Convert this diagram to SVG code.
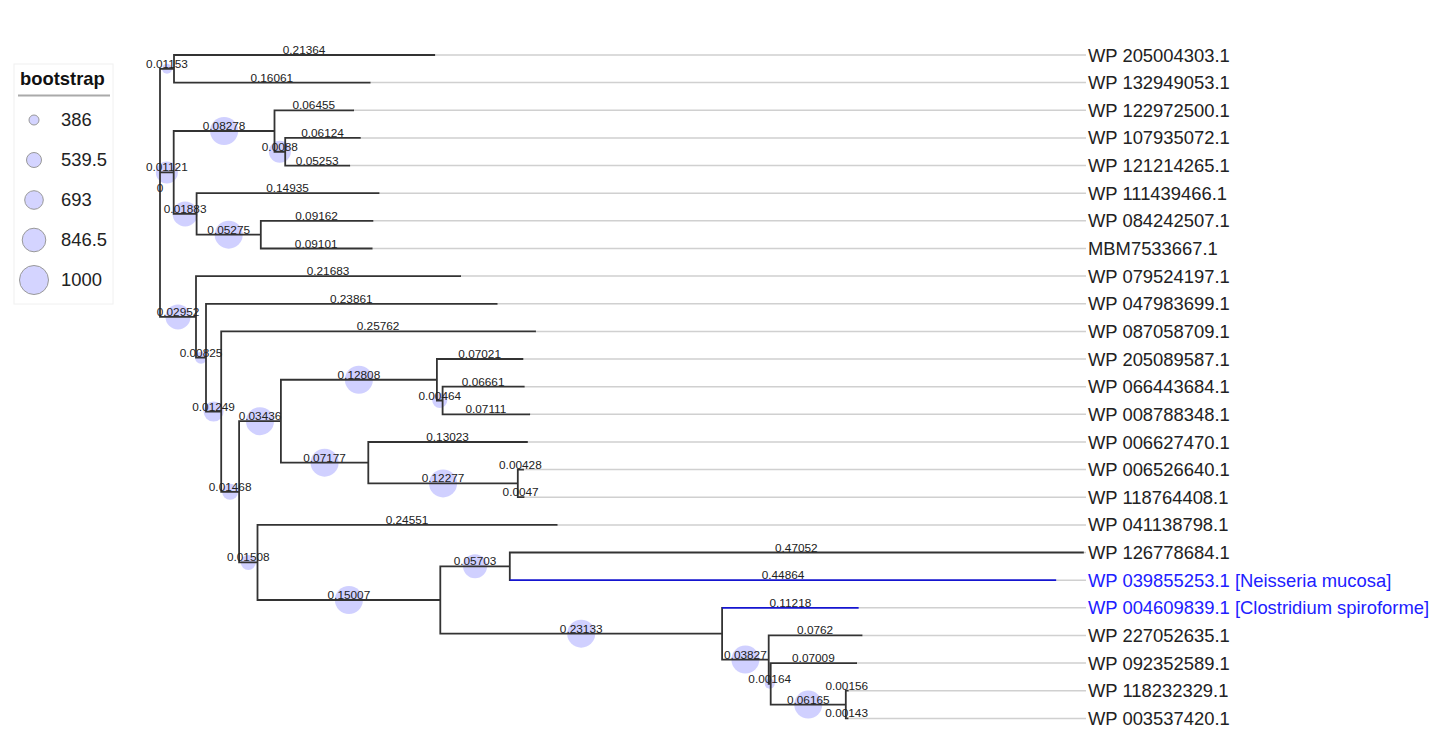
<svg xmlns="http://www.w3.org/2000/svg" width="1455" height="736" viewBox="0 0 1455 736">
<style>
text{font-family:"Liberation Sans",Arial,sans-serif}
.bl{font-size:11.8px;fill:#222;text-anchor:middle}
.leaf{font-size:18.4px;fill:#222}
.blue{fill:#2020ff}
.br{stroke:#333;stroke-width:1.8;fill:none;stroke-linecap:square}
.bb{stroke:#1515d0;stroke-width:1.8;fill:none}
.ext{stroke:#d0d0d0;stroke-width:1.5;fill:none}
.bs{fill:#aaaaff;fill-opacity:0.55;stroke:none}
.lg{fill:#d4d4ff;stroke:#999;stroke-width:1}
.lt{font-size:18.4px;fill:#222}
</style>
<rect width="1455" height="736" fill="#fff"/>
<g id="legend">
<rect x="14" y="64" width="99" height="240" fill="#fff" stroke="#f0f0f0"/>
<text x="20" y="85" style="font-size:18.4px;font-weight:bold" fill="#111">bootstrap</text>
<line x1="18" y1="95.5" x2="110" y2="95.5" stroke="#aaa" stroke-width="2"/>
<circle class="lg" cx="34" cy="120" r="5"/><text class="lt" x="61" y="126">386</text>
<circle class="lg" cx="34" cy="160" r="7.5"/><text class="lt" x="61" y="166">539.5</text>
<circle class="lg" cx="34" cy="200" r="9.3"/><text class="lt" x="61" y="206">693</text>
<circle class="lg" cx="34" cy="240" r="11.8"/><text class="lt" x="61" y="246">846.5</text>
<circle class="lg" cx="34" cy="280" r="14.5"/><text class="lt" x="61" y="286">1000</text>
</g>
<g id="extensions">
<path class="ext" d="M434.2 55H1086M369.6 82.6H1086M353.1 110.3H1086M359.8 137.9H1086M349.2 165.6H1086M378.5 193.2H1086M372.4 220.8H1086M371.6 248.5H1086M460.1 276.1H1086M496.6 303.8H1086M535 331.4H1086M522.4 359H1086M523.7 386.7H1086M529.2 414.3H1086M526.9 442H1086M523 469.6H1086M523.5 497.2H1086M556.6 524.9H1086M1082.9 552.5H1086M1056.2 580.2H1086M858.7 607.8H1086M861.5 635.4H1086M856.1 663.1H1086M847.7 690.7H1086M847.5 718.4H1086"/>
</g>
<g id="bootstrap-circles">
<circle class="bs" cx="167" cy="68.8" r="5"/>
<circle class="bs" cx="166.85" cy="172.45" r="11"/>
<circle class="bs" cx="224.1" cy="131" r="14"/>
<circle class="bs" cx="279.85" cy="151.75" r="11"/>
<circle class="bs" cx="185.15" cy="213.9" r="12.5"/>
<circle class="bs" cx="228.7" cy="234.65" r="14"/>
<circle class="bs" cx="178" cy="316.9" r="12.5"/>
<circle class="bs" cx="201" cy="357.7" r="6"/>
<circle class="bs" cx="213.6" cy="411.6" r="10"/>
<circle class="bs" cx="230.15" cy="491.8" r="8"/>
<circle class="bs" cx="260" cy="421.2" r="14"/>
<circle class="bs" cx="358.9" cy="379.75" r="14"/>
<circle class="bs" cx="439.75" cy="400.5" r="7.5"/>
<circle class="bs" cx="324.6" cy="462.7" r="14"/>
<circle class="bs" cx="443.05" cy="483.4" r="14"/>
<circle class="bs" cx="248.3" cy="562.45" r="7.5"/>
<circle class="bs" cx="348.9" cy="600" r="14"/>
<circle class="bs" cx="475.05" cy="566.35" r="12"/>
<circle class="bs" cx="581.2" cy="633.7" r="14"/>
<circle class="bs" cx="745.4" cy="659.6" r="14"/>
<circle class="bs" cx="769.7" cy="683.8" r="5"/>
<circle class="bs" cx="808.25" cy="704.55" r="14"/>
</g>
<g id="connectors">
<path class="br" d="M160 68.8V316.9
M160 68.8H174M174 55V82.6M174 55H434.2M174 82.6H369.6
M160 172.45H173.7M173.7 131V213.9
M173.7 131H274.5M274.5 110.3V151.75M274.5 110.3H353.1
M274.5 151.75H285.2M285.2 137.9V165.6M285.2 137.9H359.8M285.2 165.6H349.2
M173.7 213.9H196.6M196.6 193.2V234.65M196.6 193.2H378.5
M196.6 234.65H260.8M260.8 220.8V248.5M260.8 220.8H372.4M260.8 248.5H371.6
M160 316.9H196M196 276.1V357.7M196 276.1H460.1
M196 357.7H206M206 303.8V411.6M206 303.8H496.6
M206 411.6H221.2M221.2 331.4V491.8M221.2 331.4H535
M221.2 491.8H239.1M239.1 421.2V562.45
M239.1 421.2H280.9M280.9 379.75V462.7
M280.9 379.75H436.9M436.9 359V400.5M436.9 359H522.4
M436.9 400.5H442.6M442.6 386.7V414.3M442.6 386.7H523.7M442.6 414.3H529.2
M280.9 462.7H368.3M368.3 442V483.4M368.3 442H526.9
M368.3 483.4H517.8M517.8 469.6V497.2M517.8 469.6H523M517.8 497.2H523.5
M239.1 562.45H257.5M257.5 524.9V600M257.5 524.9H556.6
M257.5 600H440.3M440.3 566.35V633.7
M440.3 566.35H509.8M509.8 552.5V580.2M509.8 552.5H1082.9
M440.3 633.7H722.1M722.1 607.8V659.6
M722.1 659.6H768.7M768.7 635.4V683.8M768.7 635.4H861.5
M768.7 683.8H770.7M770.7 663.1V704.55M770.7 663.1H856.1
M770.7 704.55H845.8M845.8 690.7V718.4M845.8 690.7H847.7M845.8 718.4H847.5"/>
<path class="bb" d="M509.8 580.2H1056.2M722.1 607.8H858.7"/>
</g>
<g id="root"><text class="bl" x="160" y="192">0</text></g>
<g id="n-A"><text class="bl" x="167" y="67.8">0.01153</text></g>
<g id="n-B"><text class="bl" x="166.85" y="171.45">0.01121</text></g>
<g id="n-C"><text class="bl" x="224.1" y="130">0.08278</text></g>
<g id="n-D"><text class="bl" x="279.85" y="150.75">0.0088</text></g>
<g id="n-E"><text class="bl" x="185.15" y="212.9">0.01883</text></g>
<g id="n-F"><text class="bl" x="228.7" y="233.65">0.05275</text></g>
<g id="n-G"><text class="bl" x="178" y="315.9">0.02952</text></g>
<g id="n-H"><text class="bl" x="201" y="356.7">0.00825</text></g>
<g id="n-I"><text class="bl" x="213.6" y="410.6">0.01249</text></g>
<g id="n-J"><text class="bl" x="230.15" y="490.8">0.01468</text></g>
<g id="n-K"><text class="bl" x="260" y="420.2">0.03436</text></g>
<g id="n-L"><text class="bl" x="358.9" y="378.75">0.12808</text></g>
<g id="n-M"><text class="bl" x="439.75" y="399.5">0.00464</text></g>
<g id="n-N"><text class="bl" x="324.6" y="461.7">0.07177</text></g>
<g id="n-O"><text class="bl" x="443.05" y="482.4">0.12277</text></g>
<g id="n-P"><text class="bl" x="248.3" y="561.45">0.01508</text></g>
<g id="n-Q"><text class="bl" x="348.9" y="599">0.15007</text></g>
<g id="n-R"><text class="bl" x="475.05" y="565.35">0.05703</text></g>
<g id="n-T"><text class="bl" x="581.2" y="632.7">0.23133</text></g>
<g id="n-U"><text class="bl" x="745.4" y="658.6">0.03827</text></g>
<g id="n-V"><text class="bl" x="769.7" y="682.8">0.00164</text></g>
<g id="n-W"><text class="bl" x="808.25" y="703.55">0.06165</text></g>
<g id="leaf-0"><text class="bl" x="304.1" y="54">0.21364</text><text class="leaf" x="1088" y="61.5">WP 205004303.1</text></g>
<g id="leaf-1"><text class="bl" x="271.8" y="81.6">0.16061</text><text class="leaf" x="1088" y="89.1">WP 132949053.1</text></g>
<g id="leaf-2"><text class="bl" x="313.8" y="109.3">0.06455</text><text class="leaf" x="1088" y="116.8">WP 122972500.1</text></g>
<g id="leaf-3"><text class="bl" x="322.5" y="136.9">0.06124</text><text class="leaf" x="1088" y="144.4">WP 107935072.1</text></g>
<g id="leaf-4"><text class="bl" x="317.2" y="164.6">0.05253</text><text class="leaf" x="1088" y="172.1">WP 121214265.1</text></g>
<g id="leaf-5"><text class="bl" x="287.55" y="192.2">0.14935</text><text class="leaf" x="1088" y="199.7">WP 111439466.1</text></g>
<g id="leaf-6"><text class="bl" x="316.6" y="219.8">0.09162</text><text class="leaf" x="1088" y="227.3">WP 084242507.1</text></g>
<g id="leaf-7"><text class="bl" x="316.2" y="247.5">0.09101</text><text class="leaf" x="1088" y="255">MBM7533667.1</text></g>
<g id="leaf-8"><text class="bl" x="328.05" y="275.1">0.21683</text><text class="leaf" x="1088" y="282.6">WP 079524197.1</text></g>
<g id="leaf-9"><text class="bl" x="351.3" y="302.8">0.23861</text><text class="leaf" x="1088" y="310.3">WP 047983699.1</text></g>
<g id="leaf-10"><text class="bl" x="378.1" y="330.4">0.25762</text><text class="leaf" x="1088" y="337.9">WP 087058709.1</text></g>
<g id="leaf-11"><text class="bl" x="479.65" y="358">0.07021</text><text class="leaf" x="1088" y="365.5">WP 205089587.1</text></g>
<g id="leaf-12"><text class="bl" x="483.15" y="385.7">0.06661</text><text class="leaf" x="1088" y="393.2">WP 066443684.1</text></g>
<g id="leaf-13"><text class="bl" x="485.9" y="413.3">0.07111</text><text class="leaf" x="1088" y="420.8">WP 008788348.1</text></g>
<g id="leaf-14"><text class="bl" x="447.6" y="441">0.13023</text><text class="leaf" x="1088" y="448.5">WP 006627470.1</text></g>
<g id="leaf-15"><text class="bl" x="520.4" y="468.6">0.00428</text><text class="leaf" x="1088" y="476.1">WP 006526640.1</text></g>
<g id="leaf-16"><text class="bl" x="520.65" y="496.2">0.0047</text><text class="leaf" x="1088" y="503.7">WP 118764408.1</text></g>
<g id="leaf-17"><text class="bl" x="407.05" y="523.9">0.24551</text><text class="leaf" x="1088" y="531.4">WP 041138798.1</text></g>
<g id="leaf-18"><text class="bl" x="796.35" y="551.5">0.47052</text><text class="leaf" x="1088" y="559">WP 126778684.1</text></g>
<g id="leaf-19"><text class="bl" x="783" y="579.2">0.44864</text><text class="leaf blue" x="1088" y="586.7">WP 039855253.1 [Neisseria mucosa]</text></g>
<g id="leaf-20"><text class="bl" x="790.4" y="606.8">0.11218</text><text class="leaf blue" x="1088" y="614.3">WP 004609839.1 [Clostridium spiroforme]</text></g>
<g id="leaf-21"><text class="bl" x="815.1" y="634.4">0.0762</text><text class="leaf" x="1088" y="641.9">WP 227052635.1</text></g>
<g id="leaf-22"><text class="bl" x="813.4" y="662.1">0.07009</text><text class="leaf" x="1088" y="669.6">WP 092352589.1</text></g>
<g id="leaf-23"><text class="bl" x="846.75" y="689.7">0.00156</text><text class="leaf" x="1088" y="697.2">WP 118232329.1</text></g>
<g id="leaf-24"><text class="bl" x="846.65" y="717.4">0.00143</text><text class="leaf" x="1088" y="724.9">WP 003537420.1</text></g>
</svg>
